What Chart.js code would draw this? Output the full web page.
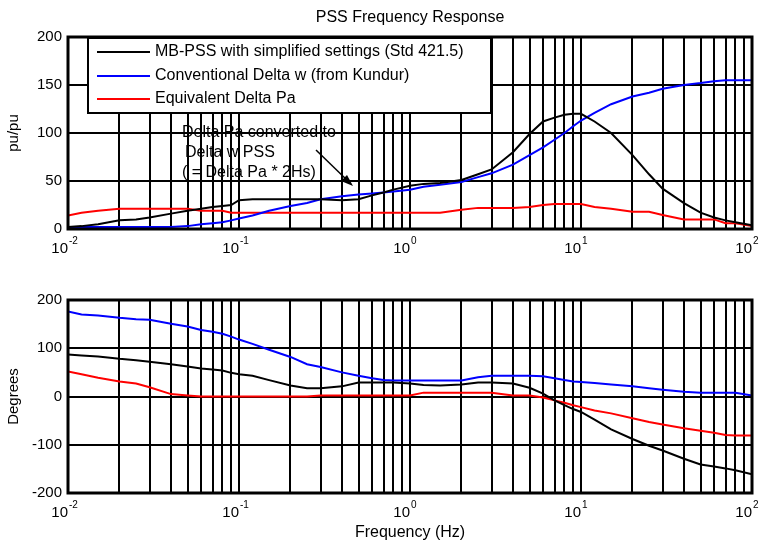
<!DOCTYPE html>
<html>
<head>
<meta charset="utf-8">
<script src="https://cdn.jsdelivr.net/npm/chart.js@4/dist/chart.umd.min.js"></script>
<style>
  body { margin: 0; background: #fff; }
  #wrap { position: relative; width: 761px; height: 544px; }
  canvas { position: absolute; left: 0; }
</style>
</head>
<body>
<div id="wrap">
  <canvas id="mag" width="761" height="262" style="top:0"></canvas>
  <canvas id="phase" width="761" height="282" style="top:262px"></canvas>
</div>
<script>
// frequencies (Hz) the curves were read at
var freq = [0.01, 0.012, 0.015, 0.02, 0.025, 0.03, 0.04, 0.05, 0.06, 0.07, 0.08, 0.09,
  0.1, 0.12, 0.15, 0.2, 0.25, 0.3, 0.4, 0.5, 0.6, 0.7, 0.8,
  1, 1.2, 1.5, 2, 2.5, 3, 4, 5, 6, 7, 8, 9,
  10, 12, 15, 20, 25, 30, 40, 50, 60, 70, 80, 100];

// magnitude (pu/pu)
var magMB = [2, 3, 5, 9, 10, 12, 16, 19, 21, 23, 24, 25,
  30, 31, 31, 31, 31, 31, 30, 31, 35, 38, 41,
  45, 47, 48, 51, 57, 62, 80, 99, 112, 116, 119, 120,
  120, 112, 100, 77, 57, 42, 27, 17, 12, 9, 7, 4];
var magConv = [2, 2, 2, 2, 2, 2, 2, 3, 5, 6, 7, 9,
  11, 14, 19, 24, 27, 31, 34, 36, 37, 38, 39,
  41, 44, 46, 49, 54, 58, 67, 77, 85, 93, 100, 107,
  113, 121, 130, 138, 142, 146, 150, 152, 154, 155, 155, 155];
var magEq = [14, 17, 19, 21, 21, 21, 21, 21, 19, 19, 19, 17,
  17, 17, 17, 17, 17, 17, 17, 17, 17, 17, 17,
  17, 17, 17, 20, 22, 22, 22, 23, 25, 26, 26, 26,
  26, 23, 21, 18, 18, 14.5, 10, 10, 10, 6, 6, 3];

// phase (degrees)
var phMB = [87, 85, 83, 78, 75, 72, 67, 62, 58, 56, 54, 49,
  46, 43, 34, 23, 17, 17, 21, 29, 29, 29, 29,
  27, 24, 23, 25, 29, 29, 27, 18, 6, -8, -18, -26,
  -32, -48, -68, -88, -102, -112, -129, -141, -145, -149, -153, -161];
var phConv = [176, 170, 168, 163, 160, 159, 151, 145, 138, 134, 130, 124,
  118, 109, 97, 82, 67, 61, 50, 43, 38, 34, 33,
  33, 33, 33, 33, 40, 43, 43, 43, 42, 38, 34, 31,
  30, 28, 25, 21, 17, 14, 10, 8, 8, 8, 8, 2];
var phEq = [52, 46, 39, 31, 27, 19, 5, 2, 0, 0, 0, 0,
  0, 0, 0, 0, 0, 2, 2, 2, 2, 2, 2,
  2, 8, 8, 8, 8, 8, 2, 2, -2, -8, -13, -18,
  -22, -29, -35, -45, -53, -58, -66, -71, -75, -80, -81, -81];

var seriesNames = ['MB-PSS with simplified settings (Std 421.5)', 'Conventional Delta w (from Kundur)', 'Equivalent Delta Pa'];
var seriesColors = ['#000000', '#0000ff', '#ff0000'];

var decades = [0.01, 0.1, 1, 10, 100];
var decadeExp = ['-2', '-1', '0', '1', '2'];
var xGrid = [];
decades.forEach(function(d, i) {
  xGrid.push(d);
  if (i < decades.length - 1) for (var k = 2; k <= 9; k++) xGrid.push(+(d * k).toPrecision(3));
});

var FONT = '"Liberation Sans", Arial, Helvetica, sans-serif';

function pts(ys) {
  return ys.map(function(v, i) { return { x: freq[i], y: v }; });
}

function makeDatasets(a, b, c) {
  return [a, b, c].map(function(ys, i) {
    return {
      label: seriesNames[i],
      data: pts(ys),
      borderColor: seriesColors[i],
      borderWidth: 2,
      pointRadius: 0,
      tension: 0,
      fill: false
    };
  });
}

var frameAndLabels = {
  id: 'frameAndLabels',
  afterDraw: function(chart) {
    var ctx = chart.ctx, a = chart.chartArea, o = chart.options.plugins.frameAndLabels;
    var xs = chart.scales.x;
    ctx.save();
    ctx.strokeStyle = '#000';
    ctx.lineWidth = 3;
    ctx.strokeRect(a.left, a.top, a.right - a.left, a.bottom - a.top);
    ctx.fillStyle = '#000';
    // x decade labels 10^n
    decades.forEach(function(d, i) {
      var px = xs.getPixelForValue(d);
      ctx.font = '15px ' + FONT;
      ctx.textAlign = 'right';
      ctx.textBaseline = 'middle';
      ctx.fillText('10', px, a.bottom + 20);
      ctx.font = '10px ' + FONT;
      ctx.textAlign = 'left';
      ctx.fillText(decadeExp[i], px + 1, a.bottom + 12);
    });
    // y title
    ctx.font = '15px ' + FONT;
    ctx.textAlign = 'center';
    ctx.textBaseline = 'middle';
    ctx.translate(14, (a.top + a.bottom) / 2);
    ctx.rotate(-Math.PI / 2);
    ctx.fillText(o.yTitle, 0, 0);
    ctx.restore();
    if (o.xTitle) {
      ctx.save();
      ctx.font = '16px ' + FONT;
      ctx.fillStyle = '#000';
      ctx.textAlign = 'center';
      ctx.textBaseline = 'middle';
      ctx.fillText(o.xTitle, (a.left + a.right) / 2, a.bottom + 40);
      ctx.restore();
    }
    if (o.title) {
      ctx.save();
      ctx.font = '16px ' + FONT;
      ctx.fillStyle = '#000';
      ctx.textAlign = 'center';
      ctx.textBaseline = 'middle';
      ctx.fillText(o.title, (a.left + a.right) / 2, 18);
      ctx.restore();
    }
  }
};

var legendBox = {
  id: 'legendBox',
  afterDatasetsDraw: function(chart) {
    var ctx = chart.ctx;
    ctx.save();
    ctx.fillStyle = '#fff';
    ctx.fillRect(88, 38, 403, 75);
    ctx.strokeStyle = '#000';
    ctx.lineWidth = 2;
    ctx.strokeRect(88, 38, 403, 75);
    var rows = [52, 76, 99];
    ctx.font = '16px ' + FONT;
    ctx.textBaseline = 'middle';
    ctx.textAlign = 'left';
    seriesNames.forEach(function(n, i) {
      ctx.strokeStyle = seriesColors[i];
      ctx.beginPath();
      ctx.moveTo(97, rows[i]);
      ctx.lineTo(150, rows[i]);
      ctx.stroke();
      ctx.fillStyle = '#000';
      ctx.fillText(n, 155, rows[i]);
    });
    // annotation
    ctx.fillText('Delta Pa converted to', 182, 133);
    ctx.fillText('Delta w PSS', 185, 153);
    ctx.fillText('( = Delta Pa * 2Hs)', 182, 173);
    ctx.strokeStyle = '#000';
    ctx.lineWidth = 1.5;
    ctx.beginPath();
    ctx.moveTo(316, 150);
    ctx.lineTo(350, 183);
    ctx.stroke();
    ctx.fillStyle = '#000';
    ctx.beginPath();
    ctx.moveTo(353, 186);
    ctx.lineTo(341, 181);
    ctx.lineTo(347, 175);
    ctx.closePath();
    ctx.fill();
    ctx.restore();
  }
};

function makeChart(id, datasets, yMin, yMax, yStep, xHeight, padTop, extra, plugins) {
  return new Chart(document.getElementById(id), {
    type: 'line',
    data: { datasets: datasets },
    options: {
      responsive: false,
      animation: false,
      layout: { padding: { left: 0, right: 9, top: padTop, bottom: 0 } },
      plugins: {
        legend: { display: false },
        tooltip: { enabled: false },
        frameAndLabels: extra
      },
      scales: {
        x: {
          type: 'logarithmic',
          min: 0.01,
          max: 100,
          afterBuildTicks: function(s) { s.ticks = xGrid.map(function(v) { return { value: v }; }); },
          afterFit: function(s) { s.height = xHeight; },
          ticks: { display: false },
          grid: { color: '#000', lineWidth: 2, drawTicks: false },
          border: { display: false }
        },
        y: {
          min: yMin,
          max: yMax,
          afterFit: function(s) { s.width = 68; },
          ticks: { stepSize: yStep, color: '#000', padding: 6, font: { size: 15, family: FONT } },
          grid: { color: '#000', lineWidth: 2, drawTicks: false },
          border: { display: false }
        }
      }
    },
    plugins: plugins
  });
}

makeChart('mag', makeDatasets(magMB, magConv, magEq), 0, 200, 50, 33, 37,
  { yTitle: 'pu/pu', title: 'PSS Frequency Response' }, [frameAndLabels, legendBox]);
makeChart('phase', makeDatasets(phMB, phConv, phEq), -200, 200, 100, 51, 38,
  { yTitle: 'Degrees', xTitle: 'Frequency (Hz)' }, [frameAndLabels]);
</script>
</body>
</html>
